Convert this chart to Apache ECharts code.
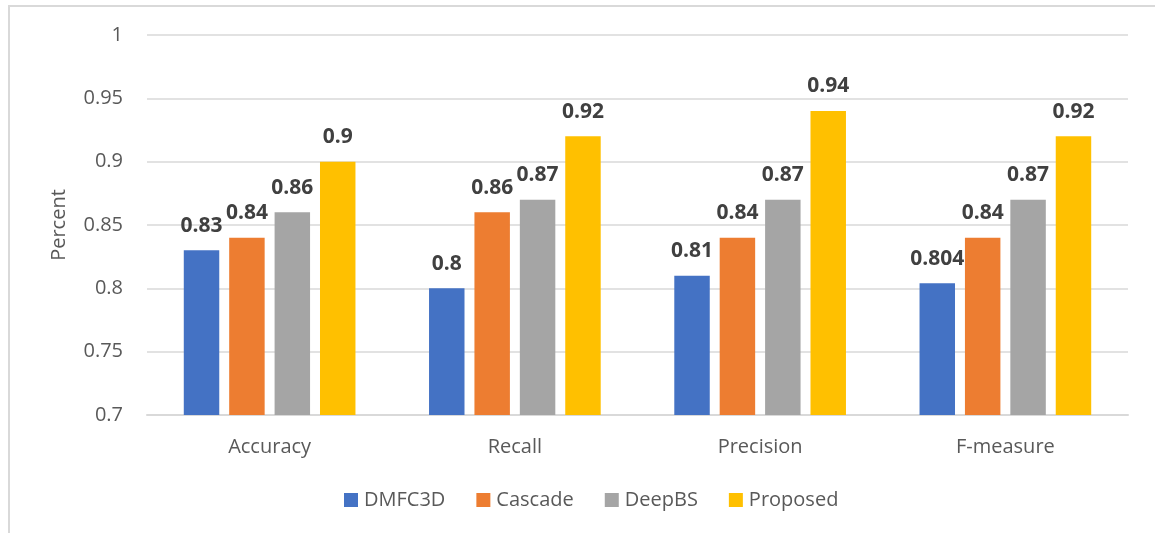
<!DOCTYPE html>
<html>
<head>
<meta charset="utf-8">
<script src="https://cdn.jsdelivr.net/npm/echarts@6/dist/echarts.min.js"></script>
<style>
  html, body { margin: 0; padding: 0; background: #fff; }
  #frame { position: absolute; left: 8px; top: 5px; width: 1160px; height: 540px;
           border: 2px solid #d9d9d9; box-sizing: border-box; }
  #chart { position: absolute; left: 0; top: 0; width: 1155px; height: 533px; }
</style>
</head>
<body>
<div id="frame"></div>
<div id="chart"></div>
<script>
const categories = ['Accuracy', 'Recall', 'Precision', 'F-measure'];
const seriesNames = ['DMFC3D', 'Cascade', 'DeepBS', 'Proposed'];
const dmfc3d   = [0.83, 0.80, 0.81, 0.804];
const cascade  = [0.84, 0.86, 0.84, 0.84];
const deepbs   = [0.86, 0.87, 0.87, 0.87];
const proposed = [0.90, 0.92, 0.94, 0.92];
const colors = ['#4472c4', '#ed7d31', '#a5a5a5', '#ffc000'];

const values = [dmfc3d, cascade, deepbs, proposed];
const font = '"Open Sans", Lato, sans-serif';

const chart = echarts.init(document.getElementById('chart'), null, { renderer: 'canvas' });
chart.setOption({
  animation: false,
  color: colors,
  textStyle: { fontFamily: font },
  grid: { left: 147, right: 27, top: 35, bottom: 118 },
  legend: {
    top: 485,
    left: 339,
    itemWidth: 14,
    itemHeight: 14,
    itemGap: 31,
    icon: 'rect',
    data: seriesNames,
    textStyle: { fontSize: 20, color: '#595959', fontFamily: font, padding: [0, 0, 0, 1] }
  },
  xAxis: {
    type: 'category',
    data: categories,
    axisLine: { lineStyle: { color: '#d9d9d9', width: 2 } },
    axisTick: { show: false },
    axisLabel: { fontSize: 20, color: '#595959', margin: 22, fontFamily: font }
  },
  yAxis: {
    type: 'value',
    min: 0.7,
    max: 1,
    interval: 0.05,
    name: 'Percent',
    nameLocation: 'middle',
    nameGap: 78,
    nameRotate: 90,
    nameTextStyle: { fontSize: 20, color: '#595959', fontFamily: font },
    axisLine: { show: false },
    axisTick: { show: false },
    axisLabel: {
      fontSize: 20, color: '#595959', margin: 24, fontFamily: font,
      formatter: v => String(parseFloat(v.toFixed(2)))
    },
    splitLine: { lineStyle: { color: '#d9d9d9', width: 1.5 } }
  },
  series: values.map((vals, i) => ({
    name: seriesNames[i],
    type: 'bar',
    data: vals,
    barGap: '28%',
    barCategoryGap: '30%',
    label: {
      show: true,
      position: 'top',
      distance: 14,
      fontSize: 21,
      fontWeight: 'bold',
      color: '#404040',
      fontFamily: font,
      formatter: p => String(p.value)
    }
  }))
});
</script>
</body>
</html>
